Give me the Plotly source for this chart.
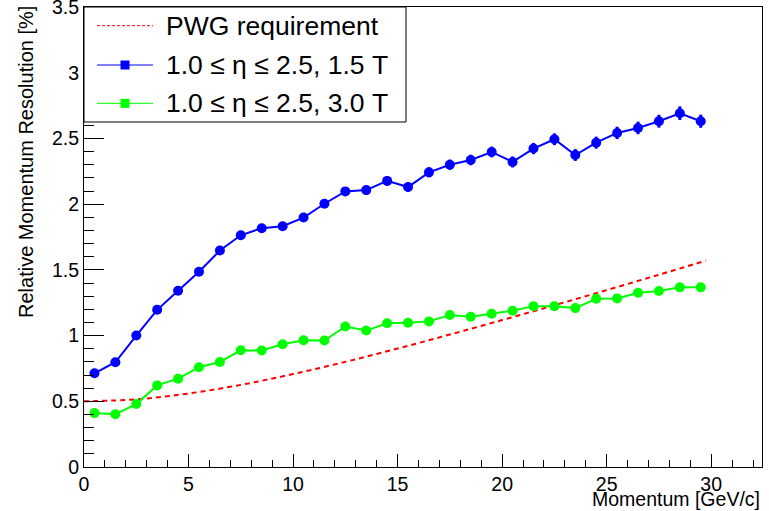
import plotly.graph_objects as go

# ---------------- data ----------------
momentum = [0.5, 1.5, 2.5, 3.5, 4.5, 5.5, 6.5, 7.5, 8.5, 9.5,
            10.5, 11.5, 12.5, 13.5, 14.5, 15.5, 16.5, 17.5, 18.5, 19.5,
            20.5, 21.5, 22.5, 23.5, 24.5, 25.5, 26.5, 27.5, 28.5, 29.5]

res_15T = [0.713, 0.797, 1.000, 1.196, 1.341, 1.486, 1.647, 1.763, 1.817, 1.832,
           1.898, 2.003, 2.097, 2.107, 2.177, 2.130, 2.242, 2.300, 2.336, 2.397,
           2.321, 2.423, 2.494, 2.374, 2.468, 2.542, 2.580, 2.631, 2.692, 2.631]
err_15T = [0.010, 0.012, 0.014, 0.016, 0.018, 0.020, 0.022, 0.024, 0.026, 0.028,
           0.029, 0.031, 0.032, 0.034, 0.035, 0.036, 0.038, 0.039, 0.040, 0.041,
           0.042, 0.043, 0.045, 0.045, 0.046, 0.047, 0.048, 0.049, 0.052, 0.050]

res_30T = [0.410, 0.402, 0.479, 0.621, 0.672, 0.759, 0.799, 0.888, 0.886, 0.934,
           0.965, 0.962, 1.069, 1.038, 1.094, 1.097, 1.108, 1.156, 1.143, 1.166,
           1.189, 1.224, 1.224, 1.209, 1.280, 1.283, 1.326, 1.339, 1.367, 1.367]
err_30T = [0.005, 0.005, 0.006, 0.007, 0.008, 0.009, 0.010, 0.011, 0.011, 0.012,
           0.012, 0.013, 0.014, 0.014, 0.015, 0.015, 0.016, 0.016, 0.017, 0.017,
           0.018, 0.018, 0.019, 0.019, 0.020, 0.020, 0.021, 0.021, 0.022, 0.022]

pwg_p = [0.0, 2.5, 5.0, 7.5, 10.0, 12.5, 15.0, 17.5, 20.0, 22.5, 25.0, 27.5, 29.75]
pwg_res = [0.500, 0.515, 0.559, 0.625, 0.707, 0.800, 0.901, 1.008, 1.118, 1.231, 1.346, 1.463, 1.570]

legend_labels = ["PWG requirement", "1.0 \u2264 \u03b7 \u2264 2.5, 1.5 T", "1.0 \u2264 \u03b7 \u2264 2.5, 3.0 T"]
x_title = "Momentum [GeV/c]"
y_title = "Relative Momentum Resolution [%]"
y_tickvals = [0, 0.5, 1, 1.5, 2, 2.5, 3, 3.5]
y_ticktext = ["0", "0.5", "1", "1.5", "2", "2.5", "3", "3.5"]
x_tickvals = [0, 5, 10, 15, 20, 25, 30]

# ---------------- styles ----------------
BLUE = "#0000ff"
GREEN = "#00ff00"
RED = "#ff0000"
FONT = "Liberation Sans, Arial, Helvetica, sans-serif"

W, H = 769, 511
ML, MR, MT, MB = 84, 7, 7, 44
PW, PH = W - ML - MR, H - MT - MB


def px_x(p):
    return (p - ML) / PW


def px_y(p):
    return (H - MB - p) / PH


fig = go.Figure()

fig.add_trace(go.Scatter(
    x=pwg_p, y=pwg_res, mode="lines", line=dict(color=RED, width=2, dash="5px,4px", shape="spline"),
    name=legend_labels[0], showlegend=False, hoverinfo="skip"))

fig.add_trace(go.Scatter(
    x=momentum, y=res_15T, mode="lines+markers",
    line=dict(color=BLUE, width=2), marker=dict(color=BLUE, size=10, symbol="circle"),
    error_y=dict(type="data", array=err_15T, color=BLUE, thickness=3, width=0),
    name=legend_labels[1], showlegend=False))

fig.add_trace(go.Scatter(
    x=momentum, y=res_30T, mode="lines+markers",
    line=dict(color=GREEN, width=2), marker=dict(color=GREEN, size=10, symbol="circle"),
    error_y=dict(type="data", array=err_30T, color=GREEN, thickness=3, width=0),
    name=legend_labels[2], showlegend=False))

# ---------------- manual ROOT-style legend ----------------
shapes = []
annotations = []
shapes.append(dict(type="rect", xref="paper", yref="paper",
                   x0=px_x(84), x1=px_x(406), y0=px_y(122), y1=px_y(7),
                   fillcolor="white", line=dict(color="black", width=1), layer="above"))
rows = [25.7, 65, 103.3]
colors = [RED, BLUE, GREEN]
for i, (ry, c, lab) in enumerate(zip(rows, colors, legend_labels)):
    if i == 0:
        shapes.append(dict(type="line", xref="paper", yref="paper",
                           x0=px_x(97), x1=px_x(153), y0=px_y(ry), y1=px_y(ry),
                           line=dict(color=c, width=1, dash="3px,2px"), layer="above"))
    else:
        shapes.append(dict(type="line", xref="paper", yref="paper",
                           x0=px_x(97), x1=px_x(153), y0=px_y(ry), y1=px_y(ry),
                           line=dict(color=c, width=1), layer="above"))
        shapes.append(dict(type="rect", xref="paper", yref="paper",
                           x0=px_x(120.5), x1=px_x(129.5), y0=px_y(ry + 4.5), y1=px_y(ry - 4.5),
                           fillcolor=c, line=dict(color=c, width=0), layer="above"))
    annotations.append(dict(text=lab, xref="paper", yref="paper", x=px_x(164), y=px_y(ry),
                            xanchor="left", yanchor="middle", showarrow=False,
                            font=dict(family=FONT, size=26.5, color="black")))

annotations.append(dict(text=x_title, xref="paper", yref="paper", x=1.0, y=px_y(499),
                        xanchor="right", yanchor="middle", showarrow=False,
                        font=dict(family=FONT, size=19.5, color="black")))
annotations.append(dict(text=y_title, xref="paper", yref="paper", x=px_x(26), y=px_y(4),
                        xanchor="center", yanchor="top", textangle=-90, showarrow=False,
                        font=dict(family=FONT, size=20, color="black")))

fig.update_layout(
    width=W, height=H,
    margin=dict(l=ML, r=MR, t=MT, b=MB, pad=0, autoexpand=False),
    plot_bgcolor="white", paper_bgcolor="white",
    showlegend=False,
    shapes=shapes, annotations=annotations,
    font=dict(family=FONT, size=19.5, color="black"),
)

fig.update_xaxes(
    range=[0, 32.43], showgrid=False, zeroline=False, automargin=False,
    showline=True, linecolor="black", linewidth=1, mirror=True,
    ticks="inside", ticklen=13, tickcolor="black", tickwidth=1,
    tickvals=x_tickvals, ticklabeloverflow="allow",
    minor=dict(dtick=1, ticks="inside", ticklen=7, tickcolor="black", tickwidth=1),
    tickfont=dict(family=FONT, size=19.5, color="black"),
)
fig.update_yaxes(
    range=[0, 3.5001], showgrid=False, zeroline=False, automargin=False,
    showline=True, linecolor="black", linewidth=1, mirror=True,
    ticks="inside", ticklen=20, tickcolor="black", tickwidth=1,
    tickvals=y_tickvals, ticktext=y_ticktext, ticklabeloverflow="allow",
    minor=dict(dtick=0.1, ticks="inside", ticklen=10, tickcolor="black", tickwidth=1),
    tickfont=dict(family=FONT, size=19.5, color="black"),
)

fig.write_html("out.html", config={"displayModeBar": False},
               post_script="document.body.style.margin='0';document.body.style.padding='0';")
